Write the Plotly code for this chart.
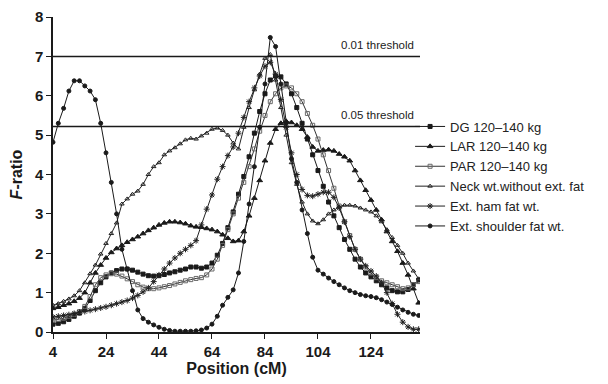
import plotly.graph_objects as go

positions = list(range(4, 143, 2))

dg = [0.2, 0.22, 0.26, 0.32, 0.4, 0.48, 0.6, 0.8, 1.05, 1.25, 1.4, 1.5, 1.56, 1.6, 1.6, 1.57, 1.52, 1.47,
      1.43, 1.42, 1.43, 1.46, 1.5, 1.53, 1.57, 1.6, 1.65, 1.65, 1.62, 1.65, 1.75, 1.95, 2.25, 2.65, 3.05,
      3.5, 3.95, 4.45, 5.05, 5.6, 6.05, 6.4, 6.5, 6.48, 6.3, 6.05, 5.7, 5.3, 4.9, 4.5, 4.1, 3.7, 3.3, 2.95,
      2.65, 2.35, 2.1, 1.85, 1.65, 1.5, 1.4, 1.3, 1.2, 1.12, 1.05, 1.02, 1.02, 1.08, 1.2, 1.32]

lar = [0.6, 0.63, 0.68, 0.72, 0.78, 0.86, 1.0, 1.25, 1.5, 1.7, 1.88, 2.02, 2.12, 2.2, 2.28, 2.35, 2.42,
       2.5, 2.58, 2.65, 2.72, 2.77, 2.8, 2.8, 2.78, 2.75, 2.7, 2.67, 2.66, 2.63, 2.6, 2.55, 2.47, 2.38,
       2.3, 2.32, 2.55, 2.95, 3.4, 3.85, 4.35, 4.8, 5.15, 5.3, 5.35, 5.32, 5.25, 5.15, 4.95, 4.7, 4.6,
       4.62, 4.63, 4.6, 4.52, 4.45, 4.35, 4.1, 3.85, 3.6, 3.35, 3.1, 2.85, 2.55, 2.3, 2.05, 1.75, 1.45,
       1.1, 0.74]

par = [0.3, 0.32, 0.35, 0.4, 0.45, 0.52, 0.65, 0.9, 1.2, 1.38, 1.45, 1.48, 1.47, 1.42, 1.35, 1.28, 1.2,
       1.14, 1.1, 1.1, 1.12, 1.15, 1.18, 1.22, 1.26, 1.3, 1.33, 1.36, 1.38, 1.45, 1.6, 1.85, 2.2, 2.6,
       3.0, 3.4, 3.8, 4.2, 4.65, 5.1, 5.5, 5.85, 6.05, 6.2, 6.25, 6.2, 6.05, 5.85, 5.55, 5.25, 4.9, 4.5,
       4.1, 3.65, 3.2, 2.8, 2.45, 2.1, 1.85, 1.65, 1.5, 1.38, 1.3, 1.25, 1.2, 1.15, 1.1, 1.12, 1.2, 1.28]

neck = [0.68, 0.72, 0.78, 0.84, 0.92, 1.05, 1.25, 1.48, 1.7, 1.98, 2.25, 2.5, 2.77, 3.25, 3.38, 3.5,
        3.58, 3.75, 4.0, 4.2, 4.3, 4.5, 4.6, 4.68, 4.78, 4.88, 4.92, 4.9, 4.98, 5.05, 5.15, 5.18, 5.12,
        5.0, 4.8, 4.65, 5.2, 5.7, 6.15, 6.55, 6.95, 7.05, 6.4, 5.7, 5.0, 4.3, 3.75, 3.3, 3.0, 2.82, 2.75,
        2.85, 3.0, 3.1, 3.18, 3.22, 3.22, 3.2, 3.15, 3.1, 3.05, 2.95, 2.8, 2.6, 2.4, 2.2, 2.0, 1.75, 1.55,
        1.35]

ham = [0.38, 0.4, 0.42, 0.44, 0.47, 0.5, 0.52, 0.55, 0.58, 0.61, 0.64, 0.68, 0.72, 0.76, 0.8, 0.86,
       0.93, 1.02, 1.12, 1.28, 1.45, 1.6, 1.75, 1.88, 2.0, 2.1, 2.2, 2.32, 2.72, 3.12, 3.48, 3.88, 4.2,
       4.48, 4.7, 5.05, 5.45, 5.85, 6.2, 6.5, 6.75, 6.85, 6.55, 5.9, 5.2, 4.55, 4.0, 3.62, 3.47, 3.45,
       3.5, 3.55, 3.55, 3.42, 3.15, 2.8, 2.42, 2.1, 1.85, 1.68, 1.55, 1.42, 1.25, 1.0, 0.72, 0.45, 0.25,
       0.13, 0.07, 0.07]

shoulder = [4.82, 5.3, 5.68, 6.12, 6.38, 6.38, 6.25, 6.12, 5.9, 5.3, 4.55, 3.8, 3.0, 2.1, 1.6, 1.05,
            0.56, 0.34, 0.25, 0.18, 0.12, 0.07, 0.04, 0.02, 0.02, 0.02, 0.02, 0.03, 0.05, 0.1, 0.2,
            0.4, 0.68, 0.88, 1.07, 1.5, 2.3, 3.25, 4.2, 5.2, 6.3, 7.48, 7.25, 6.3, 5.3, 4.4, 3.8, 3.1,
            2.5, 1.9, 1.57, 1.47, 1.37, 1.28, 1.2, 1.12, 1.05, 1.0, 0.95, 0.92, 0.9, 0.87, 0.82, 0.76,
            0.7, 0.63, 0.56, 0.5, 0.45, 0.42]

series_names = ["DG 120–140 kg", "LAR 120–140 kg", "PAR 120–140 kg",
                "Neck wt.without ext. fat", "Ext. ham fat wt.", "Ext. shoulder fat wt."]
series_values = [dg, lar, par, neck, ham, shoulder]
x_ticks = [4, 24, 44, 64, 84, 104, 124]
y_ticks = [0, 1, 2, 3, 4, 5, 6, 7, 8]
thresholds = [7.0, 5.22]
threshold_labels = ["0.01 threshold", "0.05 threshold"]

styles = [
    dict(symbol="square", size=4, color="#1a1a1a", line_color="#1a1a1a"),
    dict(symbol="triangle-up", size=5, color="#1a1a1a", line_color="#1a1a1a"),
    dict(symbol="square-open", size=4, color="#6a6a6a", line_color="#333333"),
    dict(symbol="triangle-up-open", size=4, color="#222222", line_color="#222222"),
    dict(symbol="asterisk-open", size=5, color="#222222", line_color="#222222"),
    dict(symbol="circle", size=4, color="#1a1a1a", line_color="#1a1a1a"),
]

FONT = "Arial, Liberation Sans, sans-serif"
fig = go.Figure()
for name, vals, st in zip(series_names, series_values, styles):
    fig.add_trace(go.Scatter(
        x=positions, y=vals, name=name, mode="lines+markers",
        line=dict(color=st["line_color"], width=1),
        marker=dict(symbol=st["symbol"], size=st["size"], color=st["color"],
                    line=dict(color=st["color"], width=1)),
    ))

x_max = 142.5
for t, lab in zip(thresholds, threshold_labels):
    fig.add_shape(type="line", xref="x", yref="y", x0=4, x1=x_max, y0=t, y1=t,
                  line=dict(color="#1a1a1a", width=1.5))
    fig.add_annotation(x=x_max - 1.5, y=t, xref="x", yref="y", text=lab, showarrow=False,
                       xanchor="right", yanchor="bottom", yshift=3,
                       font=dict(family=FONT, size=11.5, color="#222"))

# the page body adds an 8 px offset, so the margins are shifted to compensate
fig.update_layout(
    width=608, height=384,
    margin=dict(l=45, r=196, t=9, b=60, autoexpand=False),
    paper_bgcolor="white", plot_bgcolor="white",
    font=dict(family=FONT, color="#1a1a1a"),
    showlegend=True,
    legend=dict(x=0.973, y=0.70, xanchor="left", yanchor="top",
                font=dict(family=FONT, size=13, color="#222"),
                itemwidth=30, tracegroupgap=0, bgcolor="rgba(0,0,0,0)"),
    xaxis=dict(range=[4, x_max], tickvals=x_ticks, showline=True, linecolor="#1a1a1a",
               linewidth=1.5, ticks="outside", ticklen=5, tickcolor="#1a1a1a",
               showgrid=False, zeroline=False, automargin=False,
               tickfont=dict(family=FONT, size=15, weight="bold"),
               title=dict(text="<b>Position (cM)</b>", font=dict(family=FONT, size=16), standoff=2)),
    yaxis=dict(range=[0, 8], tickvals=y_ticks, showline=True, linecolor="#1a1a1a",
               linewidth=1.5, ticks="outside", ticklen=5, tickcolor="#1a1a1a",
               showgrid=False, zeroline=False, automargin=False,
               tickfont=dict(family=FONT, size=15, weight="bold"),
               title=dict(text="<b><i>F</i>-ratio</b>", font=dict(family=FONT, size=16), standoff=10)),
)

fig.write_html("out.html")
